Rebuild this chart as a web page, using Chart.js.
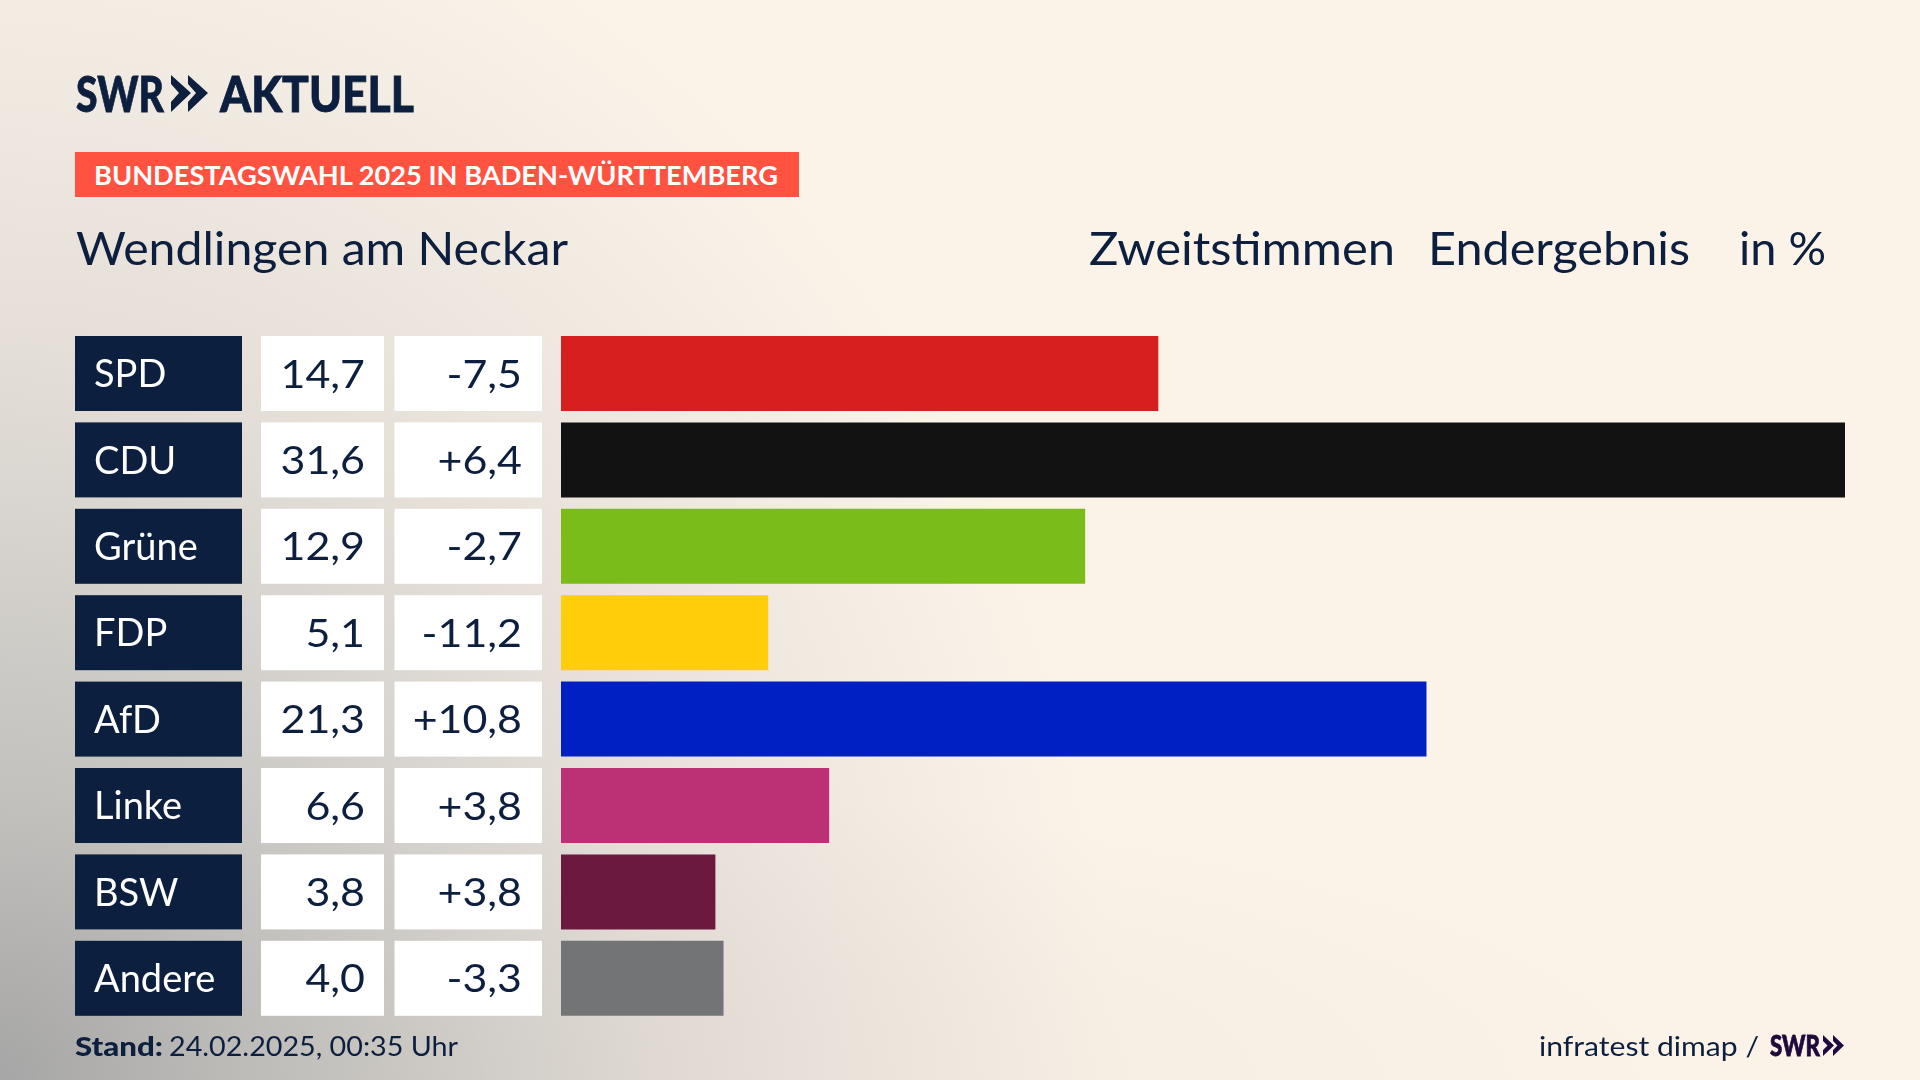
<!DOCTYPE html>
<html lang="de"><head><meta charset="utf-8">
<script src="https://cdn.jsdelivr.net/npm/chart.js@4"></script>
<style>
html,body{margin:0;padding:0;width:1920px;height:1080px;overflow:hidden;background:#FBF3E8}
#bg{position:absolute;left:0;top:0;width:1920px;height:1080px;
background:radial-gradient(ellipse 1300px 300px at 400px 1080px,rgba(120,110,105,.07) 0%,rgba(120,110,105,.04) 50%,rgba(120,110,105,0) 100%),radial-gradient(ellipse 1120px 1280px at 0 1080px,#a9a9a9 0%,#c0bfbc 20%,#d4d1cc 40%,#e5dfd8 58%,#efe8e0 75%,#f8f1e7 94%,#FBF3E8 100%);}
canvas{position:absolute;left:0;top:0}
.t{position:absolute;white-space:nowrap;transform-origin:0 0;color:#0C1F3F;font-family:Lato,sans-serif;line-height:1}
#banner{position:absolute;left:75px;top:152px;width:724px;height:45px;background:#FF5240}
svg{position:absolute;overflow:visible}
.heavy{-webkit-text-stroke:0.8px currentColor}
</style></head><body>
<div id="bg"></div>
<canvas id="c" width="1920" height="1080"></canvas>
<div id="banner"></div>
<div class="t heavy" data-x="76" data-w="88" data-b="110.5" style="font-size:50px;font-weight:900">SWR</div>
<svg style="left:171px;top:74.5px" width="38" height="37"><polygon fill="#0C1F3F" points="0,0 20,18 0,37 0,27 8,18 0,9"/><polygon fill="#0C1F3F" points="17,0 37,18 17,37 17,27 25,18 17,9"/></svg>
<div class="t heavy" data-x="220" data-w="194" data-b="110.5" style="font-size:50px;font-weight:900">AKTUELL</div>
<div class="t" data-x="94" data-w="684" data-b="184.5" style="font-size:27px;font-weight:700;color:#fff">BUNDESTAGSWAHL 2025 IN BADEN-WÜRTTEMBERG</div>
<div class="t" data-x="76" data-w="492" data-b="264.5" style="font-size:46px">Wendlingen am Neckar</div>
<div class="t" data-x="1088.5" data-w="306" data-b="264.5" style="font-size:46px">Zweitstimmen</div>
<div class="t" data-x="1428" data-w="262" data-b="264.5" style="font-size:46px">Endergebnis</div>
<div class="t" data-x="1739" data-w="87" data-b="264.5" style="font-size:46px">in %</div>
<div class="t" data-x="75" data-w="88" data-b="1055.5" style="font-size:27px;font-weight:900">Stand:</div>
<div class="t" data-x="169" data-w="289" data-b="1055.5" style="font-size:27px">24.02.2025, 00:35 Uhr</div>
<div class="t" data-x="1539" data-w="220" data-b="1055.5" style="font-size:27px">infratest dimap /</div>
<div class="t heavy" data-x="1769.5" data-w="50" data-b="1055.5" style="font-size:28px;font-weight:900;color:#1E0A3C">SWR</div>
<svg style="left:1823px;top:1035px" width="21" height="21"><polygon fill="#1E0A3C" points="0,0 11,10.5 0,21 0,15 4.5,10.5 0,6"/><polygon fill="#1E0A3C" points="10,0 21,10.5 10,21 10,15 14.5,10.5 10,6"/></svg>
<script>
const categories=["SPD","CDU","Grüne","FDP","AfD","Linke","BSW","Andere"];
const shares=[14.7,31.6,12.9,5.1,21.3,6.6,3.8,4.0];
const changes=[-7.5,6.4,-2.7,-11.2,10.8,3.8,3.8,-3.3];
const barColors=["#D81F1F","#121212","#7ABC19","#FFCE0A","#0020C4","#BC3175","#6B193F","#737476"];
const NAVY="#0C1F3F";
const fontFam="Lato, sans-serif";
const de=v=>v.toFixed(1).replace(".",",");
const signed=v=>(v>0?"+":"")+de(v);

const table={id:"table",
 beforeDraw(ch){const c=ch.ctx,m=ch.getDatasetMeta(0).data;c.save();
  m.forEach(b=>{const t=b.y-b.height/2,h=b.height;
   c.fillStyle=NAVY;c.fillRect(75,t,167,h);
   c.fillStyle="#fff";c.fillRect(261,t,123,h);c.fillRect(394.5,t,147.5,h);});
  c.restore();},
 afterDraw(ch){const c=ch.ctx,m=ch.getDatasetMeta(0).data;c.save();
  c.fillStyle=NAVY;c.font="38px "+fontFam;c.textAlign="right";c.textBaseline="alphabetic";
  const put=(s,x,y)=>{c.save();c.translate(x,y);c.scale(1.13,1);c.fillText(s,0,0);c.restore();};
  m.forEach((b,i)=>{put(de(shares[i]),365,b.y+14);put(signed(changes[i]),522,b.y+14);});
  c.restore();}
};
new Chart(document.getElementById("c"),{type:"bar",
 data:{labels:categories,datasets:[{data:shares,backgroundColor:barColors,borderWidth:0,barPercentage:75/86.4,categoryPercentage:1}]},
 options:{indexAxis:"y",responsive:false,animation:false,
  layout:{padding:{left:94,top:330.3,right:75,bottom:58.5}},
  plugins:{legend:{display:false},title:{display:false},tooltip:{enabled:false}},
  scales:{
   x:{display:false,min:0,max:31.6},
   y:{afterFit(s){s.width=467},border:{display:false},grid:{display:false,drawTicks:false},
      ticks:{autoSkip:false,crossAlign:"far",color:"#fff",padding:0,labelOffset:1.5,font:{family:"Lato",size:38}}}
  }},
 plugins:[table]});
document.querySelectorAll(".t").forEach(e=>{
 const w=e.getBoundingClientRect().width,tw=+e.dataset.w,fs=parseFloat(e.style.fontSize);
 e.style.left=e.dataset.x+"px";
 e.style.top=(e.dataset.b-fs*0.86)+"px";
 e.style.transform="scaleX("+(tw/w)+")";
});
</script></body></html>
